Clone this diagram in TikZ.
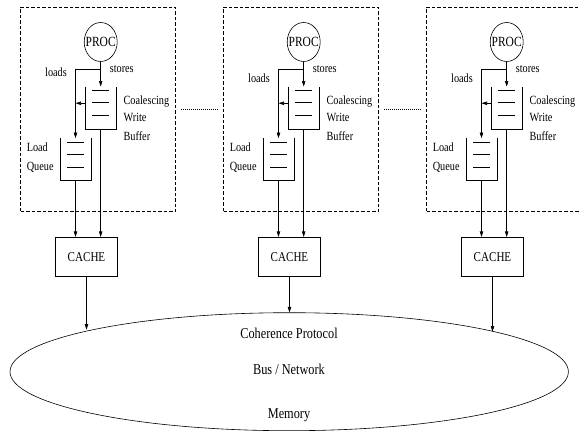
\documentclass[tikz,border=0pt]{standalone}
\usepackage{fontspec}
\setmainfont{Liberation Serif}
\newfontfamily\condfont[FakeStretch=0.82]{Liberation Serif}
\usetikzlibrary{arrows.meta,shapes.geometric}
\begin{document}
\begin{tikzpicture}[x=1pt,y=-1pt,line width=0.6pt,
  arr/.style={-{Triangle[length=5.5pt,width=3.4pt]}},
  lbl/.style={font=\condfont\fontsize{12.5}{14}\selectfont,inner sep=0pt},
  biglbl/.style={font=\condfont\fontsize{15}{17}\selectfont,inner sep=0pt},
  procshape/.style={draw,ellipse,minimum width=33pt,minimum height=39pt,inner sep=0pt},
  proclbl/.style={font=\condfont\fontsize{14}{16}\selectfont,inner sep=0pt},
  cupbox/.style={minimum width=31pt,minimum height=42.5pt,inner sep=0pt,outer sep=0pt},
  cachebox/.style={draw,minimum width=61.6pt,minimum height=38.7pt,inner sep=0pt,
    font=\condfont\fontsize{13.5}{15}\selectfont},
  modbox/.style={draw,dash pattern=on 3.5pt off 2pt,minimum width=155pt,minimum height=204.5pt,inner sep=0pt},
  dotlink/.style={dash pattern=on 0.7pt off 1.3pt},
  netshape/.style={draw,ellipse,minimum width=558.4pt,minimum height=118pt,inner sep=0pt}]
\useasboundingbox (0,0) rectangle (579,431);
\clip (0,0) rectangle (579,431);

% network ellipse
\node[netshape] (net) at (289.2,371.7) {};
\node[biglbl,anchor=base] (coh) at (289,338) {Coherence Protocol};
\node[biglbl,anchor=base] (bus) at (289,374) {Bus / Network};
\node[biglbl,anchor=base] (mem) at (289,418) {Memory};

\foreach \i/\o/\ly/\ang in {1/0/76.5/168.67, 2/203/82/90, 3/406/82/11.25}{
  \begin{scope}[xshift=\o pt]
    \node[modbox] (mod\i) at (98.2,109.25) {};
    \node[procshape] (proc\i) at (100.7,42) {};
    \node[proclbl] (proct\i) at (100.7,42) {PROC};
    \node[cupbox] (wb\i) at (100.7,107.75) {};
    \node[cupbox] (lq\i) at (75.5,159.4) {};
    \node[cachebox] (cache\i) at (86.5,256.6) {CACHE};
    \coordinate (j\i) at (100.7,69);
    % queues
    \draw (wb\i.north west) -- (wb\i.south west) -- (wb\i.south east) -- (wb\i.north east);
    \draw (lq\i.north west) -- (lq\i.south west) -- (lq\i.south east) -- (lq\i.north east);
    \foreach \d in {4.2,16,29.2}{
      \draw ([xshift=-8.5pt,yshift=-\d pt]wb\i.north) -- ++(17,0);
      \draw ([xshift=-8.5pt,yshift=-\d pt]lq\i.north) -- ++(17,0);
    }
    % labels
    \node[lbl,anchor=base] (ld\i) at (56,\ly) {loads};
    \node[lbl,anchor=base west] (st\i) at (109.5,72.5) {stores};
    \node[lbl,anchor=base west] (co\i) at (123.3,104.5) {Coalescing};
    \node[lbl,anchor=base west] (wr\i) at (123.3,121) {Write};
    \node[lbl,anchor=base west] (bu\i) at (123.3,140) {Buffer};
    \node[lbl,anchor=base west] (lo\i) at (26.5,151) {Load};
    \node[lbl,anchor=base west] (qu\i) at (26.5,170) {Queue};
    % connectors
    \draw[arr] (proc\i.south) -- (wb\i.north);
    \draw[arr] (j\i) -| (lq\i.north);
    \draw[arr] ([yshift=4.5pt]wb\i.west) -- ([yshift=4.5pt]wb\i.west -| lq\i.north);
    \draw[arr] (lq\i.south) -- (lq\i.south |- cache\i.north);
    \draw[arr] (wb\i.south) -- (wb\i.south |- cache\i.north);
    \draw[arr] (cache\i.south) -- (cache\i.south |- net.\ang);
  \end{scope}
}
\draw[dotlink] ([xshift=5pt]mod1.east) -- ([xshift=-5pt]mod2.west);
\draw[dotlink] ([xshift=5pt]mod2.east) -- ([xshift=-5pt]mod3.west);
\end{tikzpicture}
\end{document}
